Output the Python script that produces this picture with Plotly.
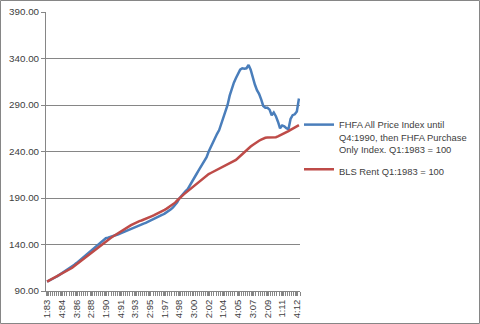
import plotly.graph_objects as go

# Quarterly categories 1:83 .. 1:13
quarters = [f"{q}:{y % 100:02d}" for y in range(1983, 2014) for q in range(1, 5)][:121]

# FHFA house price index (Q1:1983 = 100)
fhfa = [
    100, 101, 102.2, 103.6, 104.8, 106, 107.5, 108.8, 110, 111.5, 113, 114.8, 116.5,
    118.2, 120, 121.9, 123.8, 125.7, 127.6, 129.5, 131.4, 133.3, 135.2, 137.3, 139.5, 141.7, 143.8, 145.6, 146.8,
    147.2, 147.8, 148.4, 149, 150, 151, 152, 153, 154, 155.2, 156, 157, 158, 159.2, 160.2, 161,
    161.8, 162.5, 163.2, 164.2, 165.2, 166.2, 167.4, 168.6, 169.6, 170.8, 172, 173.2, 174.5, 176,
    177.8, 179.8, 182.2, 185.5, 189.5,
    192.5, 195, 197.5, 199.5, 203, 207, 211, 215, 219, 222.5, 226, 229.5, 234,
    240, 245, 250, 255, 259, 263, 270, 277, 284, 290, 300, 308, 314, 319,
    324, 328, 329.5, 329, 329.5, 333, 328, 319, 312, 306,
    302, 296, 289, 287,
    287, 285, 279, 282, 278,
    272, 265, 268, 267, 265, 264, 275, 279, 280, 283, 297,
]

# BLS rent index (Q1:1983 = 100)
rent = [
    100, 101.2, 102.4, 103.5, 104.7, 106, 107.2, 108.4, 109.6, 110.8, 112, 113.5, 115,
    116.8, 118.6, 120.4, 122.2, 124, 125.8, 127.6, 129.4, 131.2, 133, 134.8, 136.6, 138.4, 140.2, 142, 143.5,
    145, 146.5, 148, 149.5, 151, 152.5, 154, 155.5, 157, 158.4, 159.6, 160.8, 162, 163.2, 164.4, 165.2,
    165.8, 166.6, 167.6, 168.6, 169.6, 170.6, 171.6, 172.6, 173.6, 174.8, 176, 177.3, 178.6,
    180, 181.5, 183, 185, 187.3, 189.8,
    191.7, 193.6, 195.5, 197.4, 199.3, 201.2, 203.1, 205, 206.9, 208.8, 210.7, 212.6, 214.5,
    215.7, 216.9, 218, 219.2, 220.4, 221.5, 222.7, 223.9, 225, 226.2, 227.4, 228.5, 229.7, 231,
    233, 235.2, 237.4, 239.6, 241.6, 243.5, 245.3, 247, 248.8, 250.4,
    251.6, 252.8, 254, 254.8,
    255, 255.1, 255.1, 255.2, 255.4,
    256.2, 257.2, 258.3, 259.4, 260.6, 261.9, 263.2, 264.4, 265.6, 266.9, 268.3,
]

series_names = [
    "FHFA All Price Index until<br>Q4:1990, then FHFA Purchase<br>Only Index. Q1:1983 = 100",
    "BLS Rent Q1:1983 = 100",
]
y_ticks = [90, 140, 190, 240, 290, 340, 390]

idx = list(range(len(quarters)))
tick_idx = idx[::7]
tick_txt = [quarters[i] for i in tick_idx]

W, H = 480, 324
ML, MR, MT, MB = 46, 180, 12, 33
PW, PH = W - ML - MR, H - MT - MB

fig = go.Figure()
fig.add_trace(go.Scatter(x=idx, y=fhfa, mode="lines", name=series_names[0], legendgroup="g1",
                         line=dict(color="#4A7EBB", width=2.5)))
fig.add_trace(go.Scatter(x=idx, y=rent, mode="lines", name=series_names[1], legendgroup="g2",
                         line=dict(color="#BE4B48", width=2.5)))

font_col = "#404040"
fig.update_layout(
    width=W, height=H,
    margin=dict(l=ML, r=MR, t=MT, b=MB, pad=0, autoexpand=False),
    paper_bgcolor="white", plot_bgcolor="white",
    font=dict(family="Liberation Sans, Arial, sans-serif", size=10, color=font_col),
    showlegend=True,
    legend=dict(xref="container", yref="container", x=299 / W, y=1 - 112 / H,
                xanchor="left", yanchor="top",
                valign="top", font=dict(size=9.4, color=font_col),
                bgcolor="rgba(0,0,0,0)", tracegroupgap=5, itemwidth=30),
    xaxis=dict(range=[-0.5, 120.5], tickmode="array", tickvals=tick_idx, ticktext=tick_txt,
               tickangle=-90, tickfont=dict(size=9.5, color=font_col), automargin=False,
               showgrid=False, zeroline=False, showline=True, linecolor="#868686", linewidth=1,
               ticks="outside", ticklen=4, tickcolor="#868686",
               minor=dict(ticks="outside", ticklen=4, tickcolor="#868686", tick0=0.5, dtick=1)),
    yaxis=dict(range=[90, 390], tickmode="array", tickvals=y_ticks, automargin=False,
               tickformat=".2f", tickfont=dict(size=9.8, color=font_col),
               showgrid=True, gridcolor="#868686", gridwidth=1, zeroline=False,
               showline=True, linecolor="#868686", linewidth=1,
               ticks="outside", ticklen=4, tickcolor="#868686"),
)

# chart-area border
fig.add_shape(type="rect", xref="paper", yref="paper",
              x0=(0.5 - ML) / PW, x1=(W - 0.5 - ML) / PW,
              y0=-(MB - 0.5) / PH, y1=1 + (MT - 0.5) / PH,
              line=dict(color="#868686", width=1), fillcolor="rgba(0,0,0,0)", layer="below")

fig.write_html("out.html")
